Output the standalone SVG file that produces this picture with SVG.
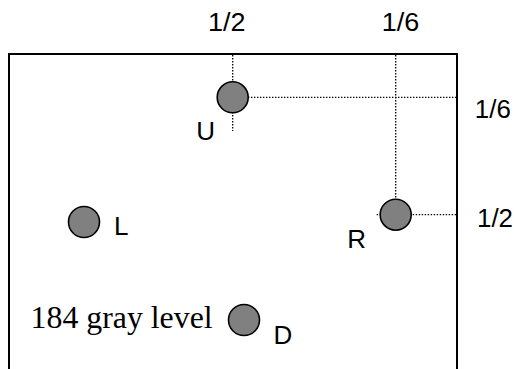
<svg xmlns="http://www.w3.org/2000/svg" width="514" height="369" viewBox="0 0 514 369">
<style>
.frame{fill:none;stroke:#000;stroke-width:2}
.dot{fill:none;stroke:#000;stroke-width:1.3;stroke-dasharray:1.4 1.6}
.pt{fill:#808080;stroke:#000;stroke-width:1.6}
.s{font-family:"Liberation Sans",Arial,sans-serif;font-size:25px;fill:#000}
.l{font-family:"Liberation Sans",Arial,sans-serif;font-size:26px;fill:#000}
.t{font-family:"Liberation Serif","Times New Roman",serif;font-size:31px;fill:#000}
</style>
<rect width="514" height="369" fill="#fff"/>
<path class="frame" d="M9,370 V54 H457 V370"/>
<g id="connectors">
<line class="dot" x1="232.7" y1="55" x2="232.7" y2="131"/>
<line class="dot" x1="248" y1="97.3" x2="456" y2="97.3"/>
<line class="dot" x1="395.7" y1="55" x2="395.7" y2="200"/>
<line class="dot" x1="376.7" y1="214.7" x2="456" y2="214.7"/>
</g>
<g id="U"><circle class="pt" cx="232.7" cy="97.3" r="15.5"/><text class="l" x="196.2" y="140">U</text></g>
<g id="R"><circle class="pt" cx="395.7" cy="214.7" r="15.5"/><text class="l" x="347.2" y="248.3">R</text></g>
<g id="L"><circle class="pt" cx="84" cy="222" r="15.5"/><text class="l" x="114.1" y="235">L</text></g>
<g id="D"><circle class="pt" cx="244" cy="320" r="15.5"/><text class="l" x="273.6" y="344">D</text></g>
<g id="labels">
<text class="s" x="208.1" y="30.7" textLength="37.5" lengthAdjust="spacingAndGlyphs">1/2</text>
<text class="s" x="381.8" y="31.3" textLength="37.5" lengthAdjust="spacingAndGlyphs">1/6</text>
<text class="s" x="474.8" y="118.3" textLength="36" lengthAdjust="spacingAndGlyphs">1/6</text>
<text class="s" x="477" y="226.7" textLength="36" lengthAdjust="spacingAndGlyphs">1/2</text>
<text class="t" x="30.6" y="328.3" textLength="182" lengthAdjust="spacingAndGlyphs">184 gray level</text>
</g>
</svg>
